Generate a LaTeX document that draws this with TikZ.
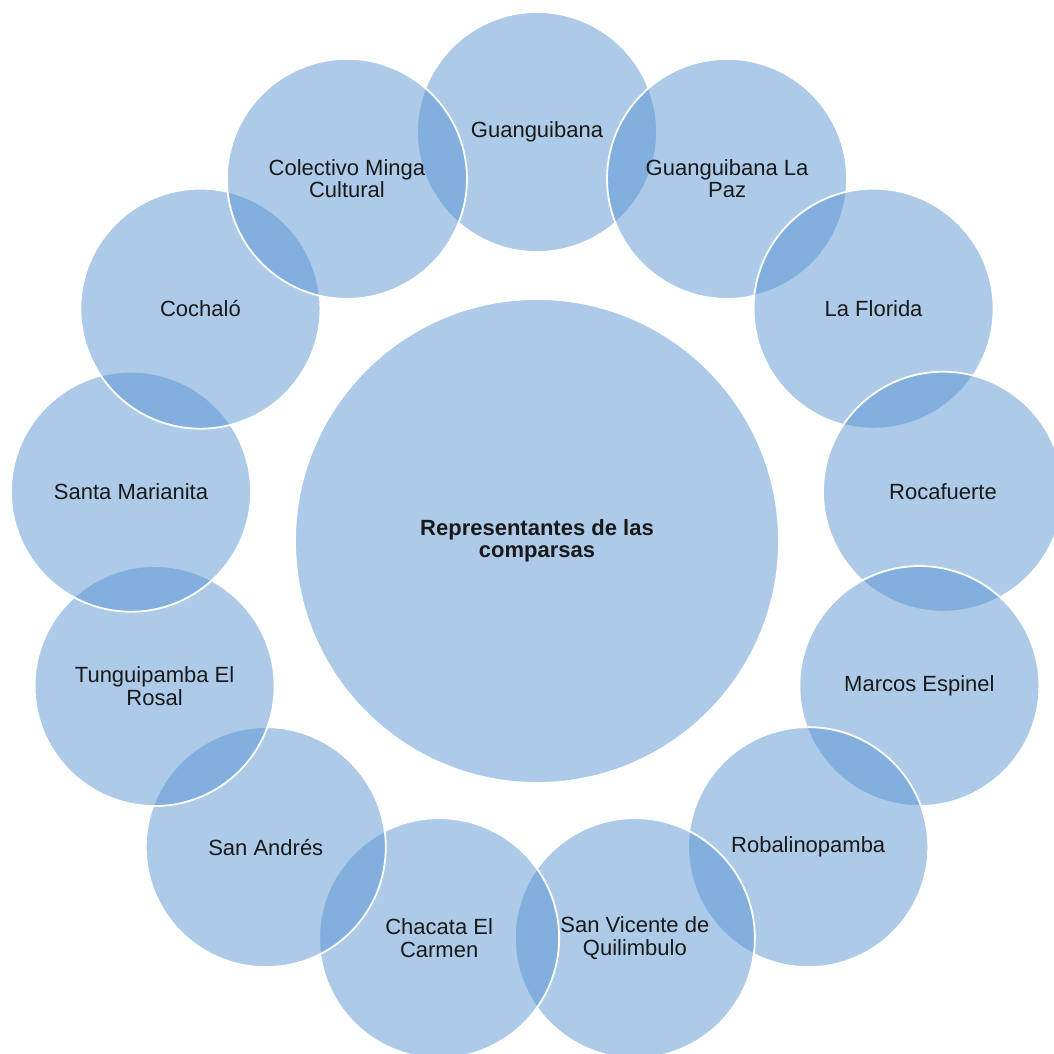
\documentclass[tikz,border=0pt]{standalone}
\usepackage{fontspec}
\setmainfont{Liberation Sans}
\definecolor{ringblue}{RGB}{83,146,209}
\definecolor{txt}{RGB}{25,25,25}
\tikzset{
  bubble/.style={circle, minimum size=240pt, inner sep=0pt, draw=white, line width=1.8pt, fill=ringblue, fill opacity=0.48},
  hub/.style={circle, minimum size=484pt, inner sep=0pt, draw=white, line width=1.8pt, fill=ringblue, fill opacity=0.48},
  lbl/.style={align=center, text=txt, font=\fontsize{22}{22.5}\selectfont, inner sep=0pt}
}
\begin{document}
\begin{tikzpicture}[x=1pt,y=-1pt]
\useasboundingbox (0,0) rectangle (1054,1053);
\node[hub] (hubc) at (537,541) {};
\foreach \i in {0,...,12}{
  \pgfmathsetmacro{\a}{90-\i*360/13}
  \node[bubble] (b\i) at ({537+409*cos(\a)},{541-409*sin(\a)}) {};
}
\node[lbl, font=\fontsize{22}{22.5}\selectfont\bfseries] at (hubc.center) {Representantes de las\\comparsas};
\foreach \i/\t in {0/{Guanguibana},1/{Guanguibana La\\Paz},2/{La Florida},3/{Rocafuerte},4/{Marcos Espinel},5/{Robalinopamba},6/{San Vicente de\\Quilimbulo},7/{Chacata El\\Carmen},8/{San Andrés},9/{Tunguipamba El\\Rosal},10/{Santa Marianita},11/{Cochaló},12/{Colectivo Minga\\Cultural}}{
  \node[lbl] (t\i) at (b\i.center) {\t};
}
\end{tikzpicture}
\end{document}
